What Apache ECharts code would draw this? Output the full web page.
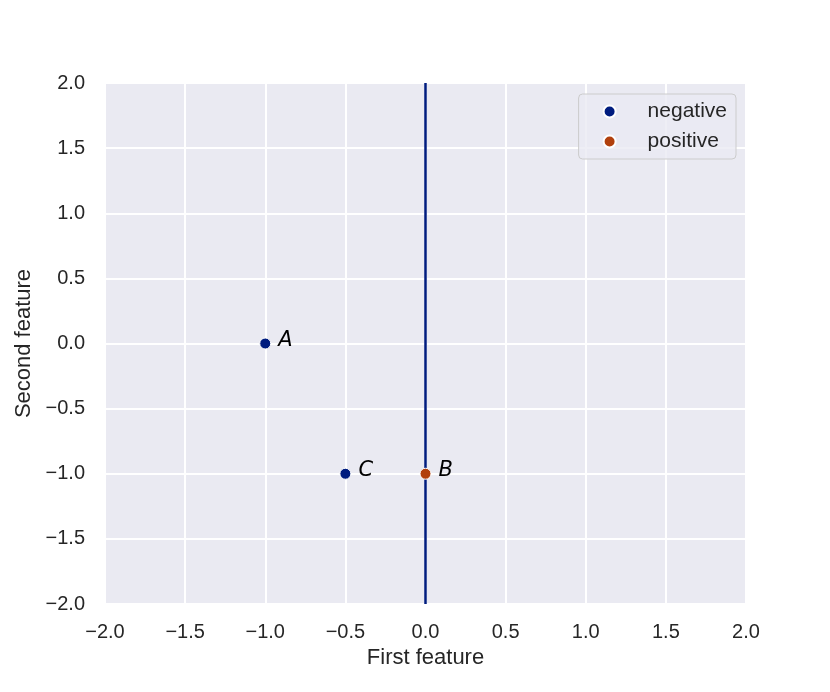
<!DOCTYPE html>
<html>
<head>
<meta charset="utf-8">
<script src="https://cdn.jsdelivr.net/npm/echarts@6/dist/echarts.min.js"></script>
<style>
  html, body { margin: 0; padding: 0; background: #fff; }
  #chart { width: 830px; height: 692px; }
</style>
</head>
<body>
<div id="chart"></div>
<script>
// points
var negativePoints = [[-1, 0, 'A'], [-0.5, -1, 'C']];
var positivePoints = [[0, -1, 'B']];
var boundaryLine = [[0, -2], [0, 2]];
var axisMin = -2, axisMax = 2, axisStep = 0.5;

var blue = '#001c7f';
var orange = '#b1400d';
var font = 'Liberation Sans, Arial, sans-serif';

function tickFmt(v) {
    return v.toFixed(1).replace('-', '\u2212');
}

var pointLabel = {
    show: true,
    position: 'right',
    distance: 7,
    formatter: function (p) { return p.value[2]; },
    fontFamily: 'DejaVu Sans, sans-serif',
    fontStyle: 'italic',
    fontSize: 21,
    color: '#000',
    offset: [0, -3]
};

var myChart = echarts.init(document.getElementById('chart'));
option = {
    animation: false,
    backgroundColor: '#fff',
    grid: {
        left: 105, top: 83, right: 84, bottom: 88,
        show: true,
        backgroundColor: '#eaeaf2',
        borderWidth: 0
    },
    legend: {
        right: 94,
        top: 94,
        orient: 'vertical',
        data: ['negative', 'positive'],
        icon: 'circle',
        itemWidth: 12,
        itemHeight: 12,
        itemGap: 9,
        padding: [7, 9, 7, 24],
        backgroundColor: 'rgba(234,234,242,0.8)',
        borderColor: '#cccccc',
        borderWidth: 1,
        borderRadius: 4,
        textStyle: {
            fontFamily: font,
            fontSize: 21,
            color: '#262626',
            padding: [0, 0, 0, 27]
        }
    },
    xAxis: {
        type: 'value',
        min: axisMin, max: axisMax, interval: axisStep,
        name: 'First feature',
        nameLocation: 'middle',
        nameGap: 42,
        nameTextStyle: { fontFamily: font, fontSize: 22, color: '#262626' },
        axisLine: { show: false },
        axisTick: { show: false },
        axisLabel: { formatter: tickFmt, fontFamily: font, fontSize: 20, color: '#262626', margin: 18 },
        splitLine: { show: true, lineStyle: { color: '#ffffff', width: 2 } }
    },
    yAxis: {
        type: 'value',
        min: axisMin, max: axisMax, interval: axisStep,
        name: 'Second feature',
        nameLocation: 'middle',
        nameGap: 70,
        nameTextStyle: { fontFamily: font, fontSize: 22, color: '#262626' },
        axisLine: { show: false },
        axisTick: { show: false },
        axisLabel: { formatter: tickFmt, fontFamily: font, fontSize: 20, color: '#262626', margin: 20 },
        splitLine: { show: true, lineStyle: { color: '#ffffff', width: 2 } }
    },
    series: [
        {
            name: 'boundary',
            type: 'line',
            data: boundaryLine,
            symbol: 'none',
            lineStyle: { color: blue, width: 2.5 },
            z: 2
        },
        {
            name: 'negative',
            type: 'scatter',
            data: negativePoints,
            symbolSize: 11,
            itemStyle: { color: blue, opacity: 1, borderColor: '#fff', borderWidth: 1 },
            label: pointLabel,
            z: 3
        },
        {
            name: 'positive',
            type: 'scatter',
            data: positivePoints,
            symbolSize: 11,
            itemStyle: { color: orange, opacity: 1, borderColor: '#fff', borderWidth: 1 },
            label: pointLabel,
            z: 3
        }
    ]
};
myChart.setOption(option);
</script>
</body>
</html>
